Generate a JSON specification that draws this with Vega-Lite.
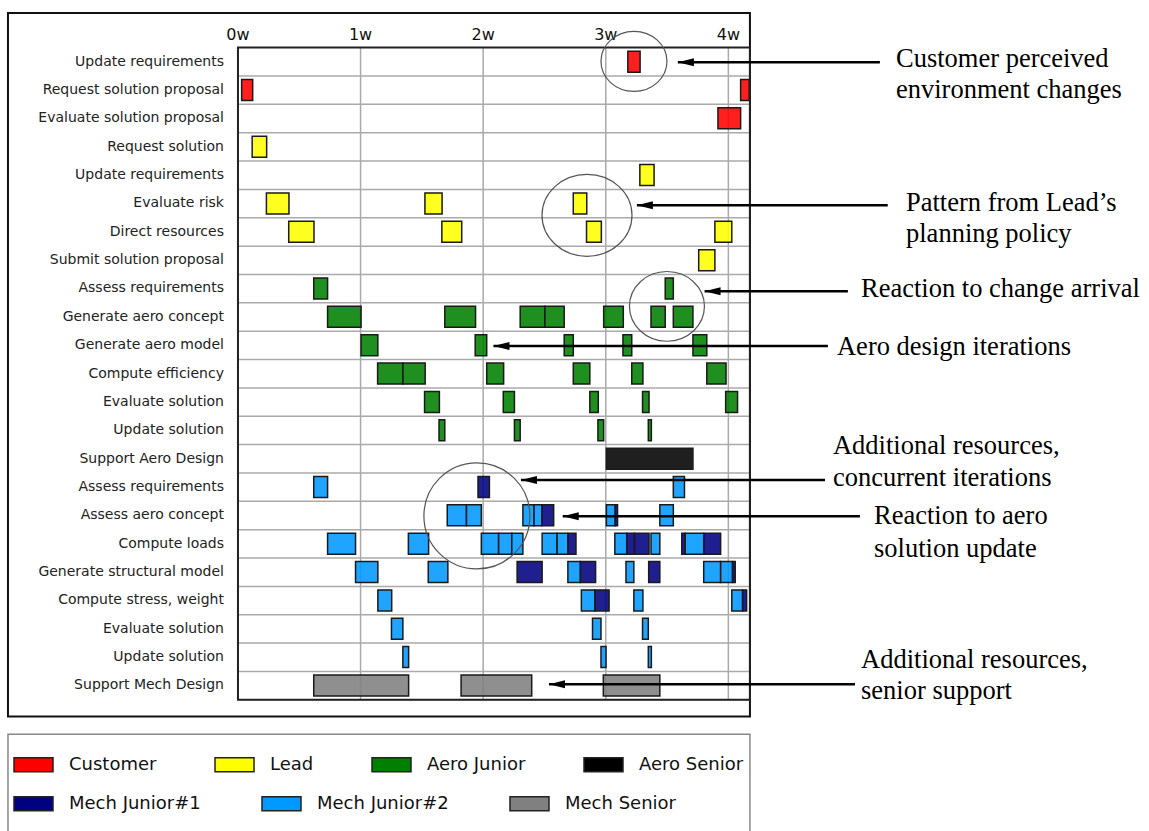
{
  "$schema": "https://vega.github.io/schema/vega-lite/v6.json",
  "width": 1149,
  "height": 831,
  "autosize": "none",
  "padding": 0,
  "background": "white",
  "config": {"view": {"stroke": null}},
  "resolve": {"scale": {"color": "independent"}, "legend": {"color": "independent"}},
  "datasets": {
    "tasks": [
      {"row": 1, "task": "Update requirements"},
      {"row": 2, "task": "Request solution proposal"},
      {"row": 3, "task": "Evaluate solution proposal"},
      {"row": 4, "task": "Request solution"},
      {"row": 5, "task": "Update requirements"},
      {"row": 6, "task": "Evaluate risk"},
      {"row": 7, "task": "Direct resources"},
      {"row": 8, "task": "Submit solution proposal"},
      {"row": 9, "task": "Assess requirements"},
      {"row": 10, "task": "Generate aero concept"},
      {"row": 11, "task": "Generate aero model"},
      {"row": 12, "task": "Compute efficiency"},
      {"row": 13, "task": "Evaluate solution"},
      {"row": 14, "task": "Update solution"},
      {"row": 15, "task": "Support Aero Design"},
      {"row": 16, "task": "Assess requirements"},
      {"row": 17, "task": "Assess aero concept"},
      {"row": 18, "task": "Compute loads"},
      {"row": 19, "task": "Generate structural model"},
      {"row": 20, "task": "Compute stress, weight"},
      {"row": 21, "task": "Evaluate solution"},
      {"row": 22, "task": "Update solution"},
      {"row": 23, "task": "Support Mech Design"}
    ],
    "weeks": [
      {"week": 0, "label": "0w"},
      {"week": 1, "label": "1w"},
      {"week": 2, "label": "2w"},
      {"week": 3, "label": "3w"},
      {"week": 4, "label": "4w"}
    ],
    "bars": [
      {"row": 1, "role": "Customer", "start": 3.18, "end": 3.28},
      {"row": 2, "role": "Customer", "start": 0.03, "end": 0.12},
      {"row": 2, "role": "Customer", "start": 4.10, "end": 4.17},
      {"row": 3, "role": "Customer", "start": 3.915, "end": 4.10},
      {"row": 4, "role": "Lead", "start": 0.116, "end": 0.234},
      {"row": 5, "role": "Lead", "start": 3.278, "end": 3.394},
      {"row": 6, "role": "Lead", "start": 0.232, "end": 0.416},
      {"row": 6, "role": "Lead", "start": 1.525, "end": 1.665},
      {"row": 6, "role": "Lead", "start": 2.735, "end": 2.845},
      {"row": 7, "role": "Lead", "start": 0.414, "end": 0.62},
      {"row": 7, "role": "Lead", "start": 1.663, "end": 1.825},
      {"row": 7, "role": "Lead", "start": 2.843, "end": 2.964},
      {"row": 7, "role": "Lead", "start": 3.89, "end": 4.028},
      {"row": 8, "role": "Lead", "start": 3.758, "end": 3.89},
      {"row": 9, "role": "Aero Junior", "start": 0.618, "end": 0.731},
      {"row": 9, "role": "Aero Junior", "start": 3.485, "end": 3.551},
      {"row": 10, "role": "Aero Junior", "start": 0.731, "end": 1.004},
      {"row": 10, "role": "Aero Junior", "start": 1.687, "end": 1.938},
      {"row": 10, "role": "Aero Junior", "start": 2.302, "end": 2.503},
      {"row": 10, "role": "Aero Junior", "start": 2.503, "end": 2.661},
      {"row": 10, "role": "Aero Junior", "start": 2.983, "end": 3.143},
      {"row": 10, "role": "Aero Junior", "start": 3.369, "end": 3.485},
      {"row": 10, "role": "Aero Junior", "start": 3.551, "end": 3.711},
      {"row": 11, "role": "Aero Junior", "start": 1.004, "end": 1.141},
      {"row": 11, "role": "Aero Junior", "start": 1.935, "end": 2.029},
      {"row": 11, "role": "Aero Junior", "start": 2.661, "end": 2.735},
      {"row": 11, "role": "Aero Junior", "start": 3.14, "end": 3.212},
      {"row": 11, "role": "Aero Junior", "start": 3.711, "end": 3.824},
      {"row": 12, "role": "Aero Junior", "start": 1.139, "end": 1.345},
      {"row": 12, "role": "Aero Junior", "start": 1.345, "end": 1.527},
      {"row": 12, "role": "Aero Junior", "start": 2.029, "end": 2.167},
      {"row": 12, "role": "Aero Junior", "start": 2.735, "end": 2.87},
      {"row": 12, "role": "Aero Junior", "start": 3.212, "end": 3.303},
      {"row": 12, "role": "Aero Junior", "start": 3.824, "end": 3.981},
      {"row": 13, "role": "Aero Junior", "start": 1.522, "end": 1.643},
      {"row": 13, "role": "Aero Junior", "start": 2.164, "end": 2.255},
      {"row": 13, "role": "Aero Junior", "start": 2.87, "end": 2.939},
      {"row": 13, "role": "Aero Junior", "start": 3.3, "end": 3.353},
      {"row": 13, "role": "Aero Junior", "start": 3.978, "end": 4.075},
      {"row": 14, "role": "Aero Junior", "start": 1.64, "end": 1.687},
      {"row": 14, "role": "Aero Junior", "start": 2.255, "end": 2.302},
      {"row": 14, "role": "Aero Junior", "start": 2.936, "end": 2.983},
      {"row": 14, "role": "Aero Junior", "start": 3.347, "end": 3.372},
      {"row": 15, "role": "Aero Senior", "start": 3.005, "end": 3.711},
      {"row": 16, "role": "Mech Junior#2", "start": 0.618, "end": 0.731},
      {"row": 16, "role": "Mech Junior#1", "start": 1.958, "end": 2.051},
      {"row": 16, "role": "Mech Junior#2", "start": 3.551, "end": 3.642},
      {"row": 17, "role": "Mech Junior#2", "start": 1.707, "end": 1.864},
      {"row": 17, "role": "Mech Junior#2", "start": 1.864, "end": 1.985},
      {"row": 17, "role": "Mech Junior#2", "start": 2.324, "end": 2.415},
      {"row": 17, "role": "Mech Junior#2", "start": 2.415, "end": 2.479},
      {"row": 17, "role": "Mech Junior#1", "start": 2.479, "end": 2.575},
      {"row": 17, "role": "Mech Junior#2", "start": 3.005, "end": 3.077},
      {"row": 17, "role": "Mech Junior#1", "start": 3.077, "end": 3.096},
      {"row": 17, "role": "Mech Junior#2", "start": 3.441, "end": 3.551},
      {"row": 18, "role": "Mech Junior#2", "start": 0.731, "end": 0.959},
      {"row": 18, "role": "Mech Junior#2", "start": 1.39, "end": 1.555},
      {"row": 18, "role": "Mech Junior#2", "start": 1.985, "end": 2.126},
      {"row": 18, "role": "Mech Junior#2", "start": 2.126, "end": 2.233},
      {"row": 18, "role": "Mech Junior#2", "start": 2.233, "end": 2.324},
      {"row": 18, "role": "Mech Junior#2", "start": 2.481, "end": 2.603},
      {"row": 18, "role": "Mech Junior#2", "start": 2.603, "end": 2.691},
      {"row": 18, "role": "Mech Junior#1", "start": 2.691, "end": 2.757},
      {"row": 18, "role": "Mech Junior#2", "start": 3.074, "end": 3.171},
      {"row": 18, "role": "Mech Junior#1", "start": 3.171, "end": 3.234},
      {"row": 18, "role": "Mech Junior#1", "start": 3.234, "end": 3.353},
      {"row": 18, "role": "Mech Junior#2", "start": 3.369, "end": 3.441},
      {"row": 18, "role": "Mech Junior#1", "start": 3.62, "end": 3.648},
      {"row": 18, "role": "Mech Junior#2", "start": 3.648, "end": 3.799},
      {"row": 18, "role": "Mech Junior#1", "start": 3.799, "end": 3.937},
      {"row": 19, "role": "Mech Junior#2", "start": 0.959, "end": 1.141},
      {"row": 19, "role": "Mech Junior#2", "start": 1.552, "end": 1.712},
      {"row": 19, "role": "Mech Junior#1", "start": 2.277, "end": 2.481},
      {"row": 19, "role": "Mech Junior#2", "start": 2.691, "end": 2.793},
      {"row": 19, "role": "Mech Junior#1", "start": 2.793, "end": 2.917},
      {"row": 19, "role": "Mech Junior#2", "start": 3.165, "end": 3.229},
      {"row": 19, "role": "Mech Junior#1", "start": 3.35, "end": 3.441},
      {"row": 19, "role": "Mech Junior#2", "start": 3.799, "end": 3.937},
      {"row": 19, "role": "Mech Junior#2", "start": 3.937, "end": 4.034},
      {"row": 19, "role": "Mech Junior#1", "start": 4.034, "end": 4.056},
      {"row": 20, "role": "Mech Junior#2", "start": 1.141, "end": 1.254},
      {"row": 20, "role": "Mech Junior#2", "start": 2.801, "end": 2.911},
      {"row": 20, "role": "Mech Junior#1", "start": 2.911, "end": 3.027},
      {"row": 20, "role": "Mech Junior#2", "start": 3.229, "end": 3.303},
      {"row": 20, "role": "Mech Junior#2", "start": 4.028, "end": 4.116},
      {"row": 20, "role": "Mech Junior#1", "start": 4.116, "end": 4.149},
      {"row": 21, "role": "Mech Junior#2", "start": 1.252, "end": 1.345},
      {"row": 21, "role": "Mech Junior#2", "start": 2.892, "end": 2.961},
      {"row": 21, "role": "Mech Junior#2", "start": 3.3, "end": 3.347},
      {"row": 22, "role": "Mech Junior#2", "start": 1.345, "end": 1.392},
      {"row": 22, "role": "Mech Junior#2", "start": 2.961, "end": 3.002},
      {"row": 22, "role": "Mech Junior#2", "start": 3.347, "end": 3.372},
      {"row": 23, "role": "Mech Senior", "start": 0.618, "end": 1.392},
      {"row": 23, "role": "Mech Senior", "start": 1.82, "end": 2.396},
      {"row": 23, "role": "Mech Senior", "start": 2.98, "end": 3.441}
    ],
    "arrows": [
      {"tip": 3.588, "tail": 5.236, "row": 1.02},
      {"tip": 3.254, "tail": 5.30, "row": 6.06},
      {"tip": 3.806, "tail": 4.975, "row": 9.1},
      {"tip": 2.084, "tail": 4.812, "row": 11.03},
      {"tip": 2.308, "tail": 4.788, "row": 15.75},
      {"tip": 2.649, "tail": 5.073, "row": 17.03},
      {"tip": 2.537, "tail": 5.033, "row": 22.96}
    ],
    "notes": [
      {"x": 5.367, "row": 0.92, "text": "Customer perceived"},
      {"x": 5.367, "row": 2.0, "text": "environment changes"},
      {"x": 5.449, "row": 5.97, "text": "Pattern from Lead’s"},
      {"x": 5.449, "row": 7.09, "text": "planning policy"},
      {"x": 5.082, "row": 9.01, "text": "Reaction to change arrival"},
      {"x": 4.886, "row": 11.06, "text": "Aero design iterations"},
      {"x": 4.853, "row": 14.57, "text": "Additional resources,"},
      {"x": 4.853, "row": 15.70, "text": "concurrent iterations"},
      {"x": 5.188, "row": 17.03, "text": "Reaction to aero"},
      {"x": 5.188, "row": 18.17, "text": "solution update"},
      {"x": 5.082, "row": 22.09, "text": "Additional resources,"},
      {"x": 5.082, "row": 23.18, "text": "senior support"}
    ]
  },
  "layer": [
    {
      "data": {"values": [{}]},
      "mark": {"type": "rect", "fill": null, "stroke": "#111", "strokeWidth": 2},
      "encoding": {
        "x": {"datum": -1.876, "type": "quantitative", "scale": {"domain": [-1.941, 7.431], "nice": false, "zero": false}, "axis": null},
        "x2": {"datum": 4.176},
        "y": {"datum": -0.72, "type": "quantitative", "scale": {"domain": [-0.998, 27.956], "reverse": true, "nice": false, "zero": false}, "axis": null},
        "y2": {"datum": 24.09}
      }
    },
    {
      "data": {"values": [{}]},
      "mark": {"type": "rect", "fill": null, "stroke": "#888", "strokeWidth": 1.5},
      "encoding": {
        "x": {"datum": -1.876, "type": "quantitative", "axis": null},
        "x2": {"datum": 4.176},
        "y": {"datum": 24.72, "type": "quantitative", "axis": null},
        "y2": {"datum": 28.3}
      }
    },
    {
      "data": {"name": "weeks"},
      "mark": {"type": "rule", "stroke": "#aaaaaa", "strokeWidth": 1.5},
      "encoding": {
        "x": {"field": "week", "type": "quantitative", "axis": null},
        "y": {"datum": 0.5, "type": "quantitative", "axis": null},
        "y2": {"datum": 23.5}
      }
    },
    {
      "data": {"name": "weeks"},
      "mark": {"type": "text", "align": "center", "baseline": "middle", "font": "DejaVu Sans", "fontSize": 16, "color": "#111"},
      "encoding": {
        "x": {"field": "week", "type": "quantitative", "axis": null},
        "y": {"datum": 0.05, "type": "quantitative", "axis": null},
        "text": {"field": "label"}
      }
    },
    {
      "data": {"name": "tasks"},
      "mark": {"type": "rule", "stroke": "#aaaaaa", "strokeWidth": 1.5, "yOffset": 14.35},
      "encoding": {
        "x": {"datum": 0, "type": "quantitative", "axis": null},
        "x2": {"datum": 4.176},
        "y": {"field": "row", "type": "quantitative", "axis": null}
      }
    },
    {
      "data": {"name": "bars"},
      "transform": [{"filter": {"field": "role", "oneOf": ["Customer", "Lead", "Aero Junior", "Aero Senior"]}}],
      "mark": {"type": "bar", "height": 21, "fillOpacity": 0.88, "stroke": "#1a1a1a", "strokeWidth": 1.5, "strokeOpacity": 1},
      "encoding": {
        "x": {"field": "start", "type": "quantitative", "axis": null},
        "x2": {"field": "end"},
        "y": {"field": "row", "type": "quantitative", "axis": null},
        "color": {
          "field": "role", "type": "nominal",
          "scale": {"domain": ["Customer", "Lead", "Aero Junior", "Aero Senior"], "range": ["#ff0000", "#ffff00", "#007f00", "#000000"]},
          "legend": {"title": null, "orient": "none", "legendX": 13, "legendY": 744, "direction": "horizontal", "columnPadding": 55, "symbolType": "M-1,-0.36H1V0.36H-1Z", "symbolSize": 1521, "symbolStrokeColor": "#222", "symbolStrokeWidth": 1.5, "symbolOpacity": 1, "labelFont": "DejaVu Sans", "labelFontSize": 18, "labelColor": "#111", "labelOffset": 15, "labelLimit": 300}
        }
      }
    },
    {
      "data": {"name": "bars"},
      "transform": [{"filter": {"field": "role", "oneOf": ["Mech Junior#1", "Mech Junior#2", "Mech Senior"]}}],
      "mark": {"type": "bar", "height": 21, "fillOpacity": 0.88, "stroke": "#1a1a1a", "strokeWidth": 1.5, "strokeOpacity": 1},
      "encoding": {
        "x": {"field": "start", "type": "quantitative", "axis": null},
        "x2": {"field": "end"},
        "y": {"field": "row", "type": "quantitative", "axis": null},
        "color": {
          "field": "role", "type": "nominal",
          "scale": {"domain": ["Mech Junior#1", "Mech Junior#2", "Mech Senior"], "range": ["#000080", "#0099ff", "#808080"]},
          "legend": {"title": null, "orient": "none", "legendX": 13, "legendY": 783, "direction": "horizontal", "columnPadding": 58, "symbolType": "M-1,-0.36H1V0.36H-1Z", "symbolSize": 1521, "symbolStrokeColor": "#222", "symbolStrokeWidth": 1.5, "symbolOpacity": 1, "labelFont": "DejaVu Sans", "labelFontSize": 18, "labelColor": "#111", "labelOffset": 15, "labelLimit": 300}
        }
      }
    },
    {
      "data": {"values": [{}]},
      "mark": {"type": "rect", "fill": null, "stroke": "#222", "strokeWidth": 2},
      "encoding": {
        "x": {"datum": 0, "type": "quantitative", "axis": null},
        "x2": {"datum": 4.176},
        "y": {"datum": 0.5, "type": "quantitative", "axis": null},
        "y2": {"datum": 23.5}
      }
    },
    {
      "data": {"values": [{"x": 3.23, "row": 0.99}]},
      "mark": {"type": "point", "shape": "M-1,0A1,0.91,0,1,1,1,0A1,0.91,0,1,1,-1,0Z", "size": 4356, "filled": false, "stroke": "#555", "strokeWidth": 1.2, "opacity": 1},
      "encoding": {"x": {"field": "x", "type": "quantitative", "axis": null}, "y": {"field": "row", "type": "quantitative", "axis": null}}
    },
    {
      "data": {"values": [{"x": 2.847, "row": 6.42}]},
      "mark": {"type": "point", "shape": "M-1,0A1,0.91,0,1,1,1,0A1,0.91,0,1,1,-1,0Z", "size": 8100, "filled": false, "stroke": "#555", "strokeWidth": 1.2, "opacity": 1},
      "encoding": {"x": {"field": "x", "type": "quantitative", "axis": null}, "y": {"field": "row", "type": "quantitative", "axis": null}}
    },
    {
      "data": {"values": [{"x": 3.499, "row": 9.63}]},
      "mark": {"type": "point", "shape": "M-1,0A1,0.93,0,1,1,1,0A1,0.93,0,1,1,-1,0Z", "size": 5625, "filled": false, "stroke": "#555", "strokeWidth": 1.2, "opacity": 1},
      "encoding": {"x": {"field": "x", "type": "quantitative", "axis": null}, "y": {"field": "row", "type": "quantitative", "axis": null}}
    },
    {
      "data": {"values": [{"x": 1.949, "row": 17.02}]},
      "mark": {"type": "point", "shape": "circle", "size": 11236, "filled": false, "stroke": "#555", "strokeWidth": 1.2, "opacity": 1},
      "encoding": {"x": {"field": "x", "type": "quantitative", "axis": null}, "y": {"field": "row", "type": "quantitative", "axis": null}}
    },
    {
      "data": {"name": "arrows"},
      "mark": {"type": "rule", "stroke": "#000", "strokeWidth": 2.5},
      "encoding": {
        "x": {"field": "tip", "type": "quantitative", "axis": null},
        "x2": {"field": "tail"},
        "y": {"field": "row", "type": "quantitative", "axis": null}
      }
    },
    {
      "data": {"name": "arrows"},
      "mark": {"type": "point", "shape": "M0,0L2,-0.5L2,0.5Z", "size": 256, "filled": true, "fill": "#000", "strokeWidth": 0, "opacity": 1},
      "encoding": {
        "x": {"field": "tip", "type": "quantitative", "axis": null},
        "y": {"field": "row", "type": "quantitative", "axis": null}
      }
    },
    {
      "data": {"name": "notes"},
      "mark": {"type": "text", "align": "left", "baseline": "middle", "font": "Liberation Serif", "fontSize": 26.5, "color": "#000"},
      "encoding": {
        "x": {"field": "x", "type": "quantitative", "axis": null},
        "y": {"field": "row", "type": "quantitative", "axis": null},
        "text": {"field": "text"}
      }
    },
    {
      "data": {"name": "tasks"},
      "mark": {"type": "text", "align": "right", "baseline": "middle", "dx": -14, "font": "DejaVu Sans", "fontSize": 14, "color": "#222"},
      "encoding": {
        "x": {"datum": 0, "type": "quantitative", "axis": null},
        "y": {"field": "row", "type": "quantitative", "axis": null},
        "text": {"field": "task"}
      }
    }
  ]
}
